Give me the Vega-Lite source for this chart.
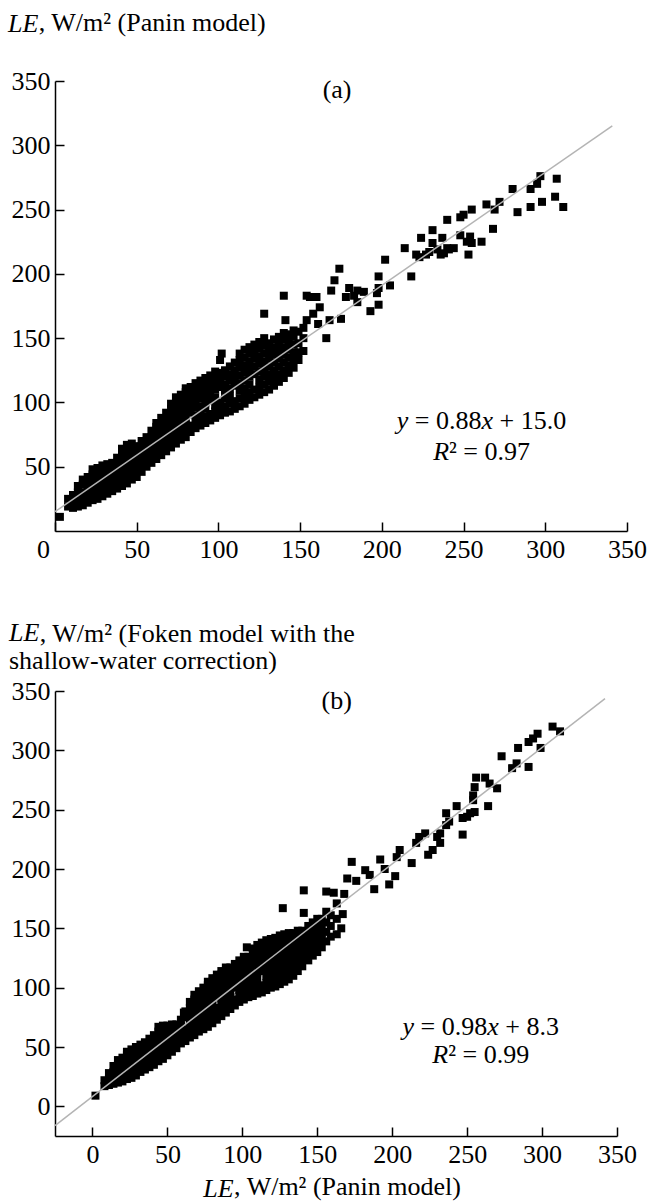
{
  "$schema": "https://vega.github.io/schema/vega-lite/v6.json",
  "padding": {"left": 8, "top": 9, "right": 0, "bottom": 0},
  "background": "white",
  "spacing": 56,
  "config": {
    "view": {"stroke": null},
    "font": "Liberation Serif",
    "axis": {"domainColor": "black", "domainWidth": 1.5, "tickColor": "black", "tickWidth": 1.5, "tickSize": -9, "labelFont": "Liberation Serif", "labelFontSize": 26, "labelColor": "black", "titleFont": "Liberation Serif", "titleFontSize": 26, "titleFontWeight": "normal", "titleColor": "black", "grid": false, "labelFlush": false, "labelOverlap": false},
    "title": {"font": "Liberation Serif", "fontSize": 26, "fontWeight": "normal", "color": "black", "subtitleFont": "Liberation Serif", "subtitleFontSize": 26, "subtitleColor": "black", "anchor": "start", "frame": "group", "offset": 0},
    "text": {"font": "Liberation Serif", "fontSize": 26, "color": "black", "align": "left", "baseline": "alphabetic"}
  },
  "title": {"text": "LE", "fontStyle": "italic", "orient": "bottom", "anchor": "start", "baseline": "alphabetic", "dx": 148.3, "dy": -6},
  "datasets": {
    "a": [
      {"x":3,"y":11},
      {"x":8,"y":19},{"x":8,"y":25},
      {"x":11,"y":18},{"x":11,"y":23},{"x":11,"y":28},
      {"x":14,"y":19},{"x":14,"y":24},{"x":14,"y":30},{"x":14,"y":35},
      {"x":17,"y":20},{"x":17,"y":25},{"x":17,"y":30},{"x":17,"y":36},{"x":17,"y":40},
      {"x":20,"y":22},{"x":20,"y":27},{"x":20,"y":32},{"x":20,"y":37},{"x":20,"y":42},
      {"x":23,"y":24},{"x":23,"y":29},{"x":23,"y":34},{"x":23,"y":39},{"x":23,"y":44},{"x":23,"y":48},
      {"x":26,"y":25},{"x":26,"y":30},{"x":26,"y":35},{"x":26,"y":40},{"x":26,"y":45},{"x":26,"y":49},
      {"x":29,"y":27},{"x":29,"y":32},{"x":29,"y":37},{"x":29,"y":42},{"x":29,"y":47},{"x":29,"y":51},
      {"x":32,"y":29},{"x":32,"y":34},{"x":32,"y":39},{"x":32,"y":44},{"x":32,"y":49},{"x":32,"y":52},
      {"x":35,"y":31},{"x":35,"y":36},{"x":35,"y":41},{"x":35,"y":46},{"x":35,"y":50},{"x":35,"y":53},
      {"x":38,"y":33},{"x":38,"y":38},{"x":38,"y":43},{"x":38,"y":48},{"x":38,"y":53},{"x":38,"y":57},
      {"x":41,"y":35},{"x":41,"y":40},{"x":41,"y":45},{"x":41,"y":50},{"x":41,"y":55},{"x":41,"y":60},{"x":41,"y":64},
      {"x":44,"y":37},{"x":44,"y":42},{"x":44,"y":47},{"x":44,"y":52},{"x":44,"y":57},{"x":44,"y":62},{"x":44,"y":67},
      {"x":47,"y":40},{"x":47,"y":45},{"x":47,"y":50},{"x":47,"y":55},{"x":47,"y":60},{"x":47,"y":65},{"x":47,"y":68},
      {"x":50,"y":42},{"x":50,"y":47},{"x":50,"y":52},{"x":50,"y":57},{"x":50,"y":62},{"x":50,"y":66},
      {"x":53,"y":46},{"x":53,"y":51},{"x":53,"y":56},{"x":53,"y":61},{"x":53,"y":66},{"x":53,"y":70},
      {"x":56,"y":50},{"x":56,"y":55},{"x":56,"y":60},{"x":56,"y":65},{"x":56,"y":70},{"x":56,"y":73},
      {"x":59,"y":53},{"x":59,"y":58},{"x":59,"y":63},{"x":59,"y":68},{"x":59,"y":73},{"x":59,"y":78},
      {"x":62,"y":56},{"x":62,"y":61},{"x":62,"y":66},{"x":62,"y":71},{"x":62,"y":76},{"x":62,"y":81},{"x":62,"y":84},
      {"x":65,"y":59},{"x":65,"y":64},{"x":65,"y":69},{"x":65,"y":74},{"x":65,"y":79},{"x":65,"y":84},{"x":65,"y":88},
      {"x":68,"y":62},{"x":68,"y":67},{"x":68,"y":72},{"x":68,"y":77},{"x":68,"y":82},{"x":68,"y":87},{"x":68,"y":92},
      {"x":71,"y":65},{"x":71,"y":70},{"x":71,"y":75},{"x":71,"y":80},{"x":71,"y":85},{"x":71,"y":90},{"x":71,"y":95},{"x":71,"y":99},
      {"x":74,"y":68},{"x":74,"y":73},{"x":74,"y":78},{"x":74,"y":83},{"x":74,"y":88},{"x":74,"y":93},{"x":74,"y":98},{"x":74,"y":104},
      {"x":77,"y":71},{"x":77,"y":76},{"x":77,"y":81},{"x":77,"y":86},{"x":77,"y":91},{"x":77,"y":96},{"x":77,"y":101},{"x":77,"y":106},
      {"x":80,"y":73},{"x":80,"y":78},{"x":80,"y":83},{"x":80,"y":88},{"x":80,"y":93},{"x":80,"y":98},{"x":80,"y":103},{"x":80,"y":108},{"x":80,"y":111},
      {"x":83,"y":77},{"x":83,"y":82},{"x":83,"y":92},{"x":83,"y":97},{"x":83,"y":102},{"x":83,"y":107},{"x":83,"y":112},
      {"x":86,"y":80},{"x":86,"y":85},{"x":86,"y":90},{"x":86,"y":96},{"x":86,"y":101},{"x":86,"y":106},{"x":86,"y":111},{"x":86,"y":115},
      {"x":89,"y":82},{"x":89,"y":87},{"x":89,"y":92},{"x":89,"y":97},{"x":89,"y":103},{"x":89,"y":108},{"x":89,"y":113},{"x":89,"y":117},
      {"x":92,"y":84},{"x":92,"y":89},{"x":92,"y":95},{"x":92,"y":100},{"x":92,"y":105},{"x":92,"y":110},{"x":92,"y":115},{"x":92,"y":119},
      {"x":95,"y":86},{"x":95,"y":91},{"x":95,"y":102},{"x":95,"y":107},{"x":95,"y":112},{"x":95,"y":117},{"x":95,"y":121},
      {"x":98,"y":88},{"x":98,"y":93},{"x":98,"y":98},{"x":98,"y":104},{"x":98,"y":110},{"x":98,"y":115},{"x":98,"y":120},{"x":98,"y":124},
      {"x":101,"y":90},{"x":101,"y":95},{"x":101,"y":100},{"x":101,"y":112},{"x":101,"y":118},{"x":101,"y":123},{"x":101,"y":133},{"x":102,"y":138},
      {"x":104,"y":92},{"x":104,"y":97},{"x":104,"y":103},{"x":104,"y":109},{"x":104,"y":114},{"x":104,"y":120},{"x":104,"y":125},
      {"x":107,"y":93},{"x":107,"y":99},{"x":107,"y":105},{"x":107,"y":111},{"x":107,"y":117},{"x":107,"y":122},{"x":107,"y":128},
      {"x":110,"y":95},{"x":110,"y":101},{"x":110,"y":113},{"x":110,"y":119},{"x":110,"y":125},{"x":110,"y":131},
      {"x":113,"y":97},{"x":113,"y":103},{"x":113,"y":109},{"x":113,"y":115},{"x":113,"y":121},{"x":113,"y":127},{"x":113,"y":133},{"x":113,"y":138},
      {"x":116,"y":99},{"x":116,"y":105},{"x":116,"y":111},{"x":116,"y":117},{"x":116,"y":123},{"x":116,"y":129},{"x":116,"y":135},{"x":116,"y":141},
      {"x":119,"y":102},{"x":119,"y":108},{"x":119,"y":114},{"x":119,"y":120},{"x":119,"y":126},{"x":119,"y":132},{"x":119,"y":138},{"x":119,"y":143},
      {"x":122,"y":104},{"x":122,"y":110},{"x":122,"y":122},{"x":122,"y":128},{"x":122,"y":134},{"x":122,"y":140},{"x":122,"y":145},
      {"x":125,"y":106},{"x":125,"y":112},{"x":125,"y":118},{"x":125,"y":124},{"x":125,"y":130},{"x":125,"y":136},{"x":125,"y":142},{"x":125,"y":147},
      {"x":128,"y":108},{"x":128,"y":114},{"x":128,"y":120},{"x":128,"y":126},{"x":128,"y":132},{"x":128,"y":138},{"x":128,"y":144},{"x":128,"y":150},{"x":128,"y":169},
      {"x":131,"y":110},{"x":131,"y":116},{"x":131,"y":122},{"x":131,"y":128},{"x":131,"y":134},{"x":131,"y":140},{"x":131,"y":146},
      {"x":134,"y":113},{"x":134,"y":119},{"x":134,"y":125},{"x":134,"y":131},{"x":134,"y":137},{"x":134,"y":143},{"x":134,"y":149},
      {"x":137,"y":116},{"x":137,"y":122},{"x":137,"y":128},{"x":137,"y":134},{"x":137,"y":140},{"x":137,"y":146},{"x":137,"y":151},
      {"x":140,"y":119},{"x":140,"y":125},{"x":140,"y":131},{"x":140,"y":137},{"x":140,"y":143},{"x":140,"y":149},{"x":140,"y":154},{"x":141,"y":164},{"x":140,"y":183},
      {"x":143,"y":123},{"x":143,"y":129},{"x":143,"y":135},{"x":143,"y":141},{"x":143,"y":147},{"x":143,"y":153},
      {"x":146,"y":127},{"x":146,"y":133},{"x":146,"y":139},{"x":146,"y":145},{"x":146,"y":151},{"x":146,"y":156},
      {"x":149,"y":133},{"x":149,"y":139},{"x":149,"y":146},{"x":149,"y":155},
      {"x":152,"y":140},{"x":152,"y":150},{"x":152,"y":158},
      {"x":154,"y":164},{"x":154,"y":183},
      {"x":156,"y":182},{"x":160,"y":182},{"x":161,"y":161},{"x":162,"y":174},{"x":158,"y":169},{"x":166,"y":150},{"x":168,"y":164},{"x":169,"y":187},{"x":171,"y":195},{"x":174,"y":204},{"x":175,"y":165},{"x":178,"y":182},{"x":180,"y":189},{"x":183,"y":183},{"x":185,"y":187},{"x":185,"y":178},{"x":189,"y":186},{"x":193,"y":171},{"x":197,"y":185},{"x":198,"y":198},{"x":198,"y":176},{"x":198,"y":189},{"x":202,"y":211},{"x":205,"y":191},{"x":214,"y":220},{"x":218,"y":198},{"x":221,"y":215},{"x":223,"y":213},{"x":224,"y":228},{"x":227,"y":215},{"x":229,"y":217},{"x":231,"y":234},{"x":231,"y":224},{"x":234,"y":219},{"x":236,"y":215},{"x":237,"y":228},{"x":238,"y":216},{"x":240,"y":242},{"x":240,"y":220},{"x":241,"y":219},{"x":244,"y":220},{"x":248,"y":244},{"x":248,"y":230},{"x":250,"y":246},{"x":252,"y":225},{"x":253,"y":215},{"x":254,"y":229},{"x":255,"y":250},{"x":255,"y":224},{"x":261,"y":225},{"x":264,"y":254},{"x":268,"y":235},{"x":269,"y":250},{"x":272,"y":256},{"x":280,"y":266},{"x":283,"y":248},{"x":291,"y":266},{"x":291,"y":252},{"x":295,"y":270},{"x":297,"y":276},{"x":298,"y":256},{"x":306,"y":260},{"x":307,"y":274},{"x":311,"y":252}
    ],
    "b": [
      {"x":2,"y":9},
      {"x":8,"y":17},{"x":8,"y":22},
      {"x":11,"y":18},{"x":11,"y":23},{"x":11,"y":28},
      {"x":14,"y":19},{"x":14,"y":24},{"x":14,"y":29},{"x":14,"y":34},
      {"x":17,"y":20},{"x":17,"y":25},{"x":17,"y":30},{"x":17,"y":35},{"x":17,"y":39},
      {"x":20,"y":21},{"x":20,"y":26},{"x":20,"y":31},{"x":20,"y":36},{"x":20,"y":41},
      {"x":23,"y":23},{"x":23,"y":28},{"x":23,"y":33},{"x":23,"y":38},{"x":23,"y":43},{"x":23,"y":46},
      {"x":26,"y":24},{"x":26,"y":29},{"x":26,"y":34},{"x":26,"y":39},{"x":26,"y":44},{"x":26,"y":48},
      {"x":29,"y":26},{"x":29,"y":31},{"x":29,"y":36},{"x":29,"y":41},{"x":29,"y":46},{"x":29,"y":50},
      {"x":32,"y":29},{"x":32,"y":34},{"x":32,"y":39},{"x":32,"y":44},{"x":32,"y":49},{"x":32,"y":52},
      {"x":35,"y":31},{"x":35,"y":36},{"x":35,"y":41},{"x":35,"y":46},{"x":35,"y":51},{"x":35,"y":54},
      {"x":38,"y":33},{"x":38,"y":38},{"x":38,"y":43},{"x":38,"y":48},{"x":38,"y":53},{"x":38,"y":57},
      {"x":41,"y":35},{"x":41,"y":40},{"x":41,"y":45},{"x":41,"y":50},{"x":41,"y":55},{"x":41,"y":60},
      {"x":44,"y":38},{"x":44,"y":43},{"x":44,"y":48},{"x":44,"y":53},{"x":44,"y":58},{"x":44,"y":63},{"x":44,"y":67},
      {"x":47,"y":40},{"x":47,"y":45},{"x":47,"y":50},{"x":47,"y":55},{"x":47,"y":60},{"x":47,"y":65},{"x":47,"y":68},
      {"x":50,"y":43},{"x":50,"y":48},{"x":50,"y":53},{"x":50,"y":58},{"x":50,"y":63},{"x":50,"y":68},
      {"x":53,"y":46},{"x":53,"y":51},{"x":53,"y":56},{"x":53,"y":61},{"x":53,"y":66},{"x":53,"y":69},
      {"x":56,"y":49},{"x":56,"y":54},{"x":56,"y":59},{"x":56,"y":64},{"x":56,"y":69},
      {"x":59,"y":53},{"x":59,"y":58},{"x":59,"y":63},{"x":59,"y":68},{"x":59,"y":73},{"x":61,"y":79},
      {"x":62,"y":55},{"x":62,"y":60},{"x":62,"y":65},{"x":62,"y":75},{"x":62,"y":80},
      {"x":65,"y":58},{"x":65,"y":63},{"x":65,"y":68},{"x":65,"y":73},{"x":65,"y":78},{"x":65,"y":83},{"x":65,"y":88},
      {"x":68,"y":60},{"x":68,"y":65},{"x":68,"y":70},{"x":68,"y":75},{"x":68,"y":80},{"x":68,"y":85},{"x":68,"y":90},{"x":68,"y":94},
      {"x":71,"y":63},{"x":71,"y":68},{"x":71,"y":73},{"x":71,"y":78},{"x":71,"y":83},{"x":71,"y":88},{"x":71,"y":93},{"x":71,"y":97},
      {"x":74,"y":65},{"x":74,"y":70},{"x":74,"y":75},{"x":74,"y":80},{"x":74,"y":85},{"x":74,"y":90},{"x":74,"y":95},{"x":74,"y":100},
      {"x":77,"y":67},{"x":77,"y":72},{"x":77,"y":77},{"x":77,"y":82},{"x":77,"y":87},{"x":77,"y":92},{"x":77,"y":97},{"x":77,"y":102},{"x":77,"y":105},
      {"x":80,"y":70},{"x":80,"y":75},{"x":80,"y":80},{"x":80,"y":85},{"x":80,"y":90},{"x":80,"y":95},{"x":80,"y":100},{"x":80,"y":105},{"x":80,"y":108},
      {"x":83,"y":73},{"x":83,"y":78},{"x":83,"y":83},{"x":83,"y":93},{"x":83,"y":98},{"x":83,"y":103},{"x":83,"y":108},{"x":83,"y":111},
      {"x":86,"y":76},{"x":86,"y":81},{"x":86,"y":86},{"x":86,"y":91},{"x":86,"y":96},{"x":86,"y":101},{"x":86,"y":106},{"x":86,"y":111},{"x":86,"y":114},
      {"x":89,"y":79},{"x":89,"y":84},{"x":89,"y":89},{"x":89,"y":94},{"x":89,"y":99},{"x":89,"y":104},{"x":89,"y":109},{"x":89,"y":114},{"x":89,"y":117},
      {"x":92,"y":82},{"x":92,"y":87},{"x":92,"y":92},{"x":92,"y":97},{"x":92,"y":102},{"x":92,"y":107},{"x":92,"y":112},{"x":92,"y":117},
      {"x":95,"y":85},{"x":95,"y":90},{"x":95,"y":100},{"x":95,"y":105},{"x":95,"y":110},{"x":95,"y":115},{"x":95,"y":120},
      {"x":98,"y":88},{"x":98,"y":93},{"x":98,"y":98},{"x":98,"y":103},{"x":98,"y":108},{"x":98,"y":113},{"x":98,"y":118},{"x":98,"y":123},
      {"x":101,"y":90},{"x":101,"y":95},{"x":101,"y":100},{"x":101,"y":105},{"x":101,"y":111},{"x":101,"y":117},{"x":101,"y":122},{"x":101,"y":126},{"x":103,"y":134},
      {"x":104,"y":92},{"x":104,"y":97},{"x":104,"y":102},{"x":104,"y":108},{"x":104,"y":114},{"x":104,"y":120},{"x":104,"y":126},
      {"x":107,"y":93},{"x":107,"y":99},{"x":107,"y":105},{"x":107,"y":111},{"x":107,"y":117},{"x":107,"y":123},{"x":107,"y":129},{"x":107,"y":133},
      {"x":110,"y":95},{"x":110,"y":101},{"x":110,"y":107},{"x":110,"y":113},{"x":110,"y":119},{"x":110,"y":125},{"x":110,"y":131},{"x":110,"y":136},
      {"x":113,"y":96},{"x":113,"y":102},{"x":113,"y":114},{"x":113,"y":120},{"x":113,"y":126},{"x":113,"y":132},{"x":113,"y":138},
      {"x":116,"y":98},{"x":116,"y":104},{"x":116,"y":110},{"x":116,"y":116},{"x":116,"y":122},{"x":116,"y":128},{"x":116,"y":134},{"x":116,"y":140},
      {"x":119,"y":100},{"x":119,"y":106},{"x":119,"y":112},{"x":119,"y":118},{"x":119,"y":124},{"x":119,"y":130},{"x":119,"y":136},{"x":119,"y":141},
      {"x":122,"y":101},{"x":122,"y":107},{"x":122,"y":113},{"x":122,"y":119},{"x":122,"y":125},{"x":122,"y":131},{"x":122,"y":137},{"x":122,"y":142},
      {"x":125,"y":103},{"x":125,"y":109},{"x":125,"y":115},{"x":125,"y":121},{"x":125,"y":127},{"x":125,"y":133},{"x":125,"y":139},{"x":125,"y":144},{"x":127,"y":167},
      {"x":128,"y":105},{"x":128,"y":111},{"x":128,"y":117},{"x":128,"y":123},{"x":128,"y":129},{"x":128,"y":135},{"x":128,"y":141},{"x":128,"y":145},
      {"x":131,"y":107},{"x":131,"y":113},{"x":131,"y":119},{"x":131,"y":125},{"x":131,"y":131},{"x":131,"y":137},{"x":131,"y":143},{"x":131,"y":146},
      {"x":134,"y":110},{"x":134,"y":116},{"x":134,"y":122},{"x":134,"y":128},{"x":134,"y":134},{"x":134,"y":140},{"x":134,"y":146},
      {"x":137,"y":114},{"x":137,"y":120},{"x":137,"y":126},{"x":137,"y":132},{"x":137,"y":138},{"x":137,"y":144},{"x":137,"y":148},
      {"x":140,"y":118},{"x":140,"y":124},{"x":140,"y":130},{"x":140,"y":136},{"x":140,"y":142},{"x":140,"y":148},{"x":141,"y":163},{"x":141,"y":182},
      {"x":144,"y":123},{"x":144,"y":129},{"x":144,"y":135},{"x":144,"y":141},{"x":144,"y":147},{"x":144,"y":152},
      {"x":147,"y":127},{"x":147,"y":133},{"x":147,"y":139},{"x":147,"y":145},{"x":147,"y":151},{"x":147,"y":155},
      {"x":150,"y":130},{"x":150,"y":136},{"x":150,"y":142},{"x":150,"y":148},{"x":150,"y":154},{"x":150,"y":158},
      {"x":153,"y":134},{"x":153,"y":140},{"x":153,"y":146},{"x":153,"y":152},{"x":153,"y":158},
      {"x":156,"y":139},{"x":156,"y":147},{"x":156,"y":155},{"x":156,"y":164},{"x":156,"y":181},
      {"x":159,"y":143},{"x":159,"y":152},{"x":159,"y":161},{"x":161,"y":180},
      {"x":163,"y":145},{"x":163,"y":158},{"x":163,"y":171},{"x":166,"y":150},{"x":167,"y":162},
      {"x":168,"y":179},{"x":170,"y":192},{"x":173,"y":206},{"x":176,"y":190},{"x":182,"y":199},{"x":185,"y":195},{"x":188,"y":183},{"x":192,"y":208},{"x":195,"y":200},{"x":198,"y":187},{"x":202,"y":194},{"x":203,"y":210},{"x":205,"y":216},{"x":213,"y":205},{"x":216,"y":222},{"x":218,"y":227},{"x":222,"y":230},{"x":224,"y":212},{"x":227,"y":216},{"x":230,"y":227},{"x":232,"y":222},{"x":232,"y":230},{"x":236,"y":247},{"x":236,"y":237},{"x":238,"y":240},{"x":243,"y":253},{"x":247,"y":243},{"x":247,"y":229},{"x":250,"y":244},{"x":252,"y":247},{"x":254,"y":258},{"x":254,"y":262},{"x":255,"y":248},{"x":255,"y":269},{"x":256,"y":277},{"x":262,"y":277},{"x":264,"y":253},{"x":265,"y":272},{"x":270,"y":268},{"x":273,"y":295},{"x":280,"y":285},{"x":283,"y":289},{"x":284,"y":302},{"x":291,"y":286},{"x":291,"y":307},{"x":294,"y":310},{"x":297,"y":314},{"x":299,"y":302},{"x":307,"y":320},{"x":312,"y":316}
    ]
  },
  "vconcat": [
    {
      "width": 572,
      "height": 450,
      "title": {"text": "LE", "fontStyle": "italic", "baseline": "alphabetic", "dx": -47, "dy": 53},
      "encoding": {
        "x": {"field": "x", "type": "quantitative", "scale": {"domain": [0, 350], "nice": false, "zero": false},
              "axis": {"values": [0, 50, 100, 150, 200, 250, 300, 350], "title": null, "labelPadding": 14.5,
                       "labelOffset": {"condition": {"test": "datum.value === 0", "value": -12}, "value": 0}}},
        "y": {"field": "y", "type": "quantitative", "scale": {"domain": [0, 350], "nice": false, "zero": false},
              "axis": {"values": [50, 100, 150, 200, 250, 300, 350], "title": ", W/m² (Panin model)", "titleAngle": 0, "titleAlign": "left", "titleBaseline": "alphabetic", "titleX": -16.7, "titleY": -51, "labelPadding": 14}}
      },
      "layer": [
        {"data": {"name": "a"}, "mark": {"type": "square", "size": 64, "color": "black", "opacity": 1}},
        {"data": {"values": [{"x": 0, "y": 15}, {"x": 341, "y": 315.1}]}, "mark": {"type": "line", "color": "#b4b4b4", "strokeWidth": 1.5}},
        {"data": {"values": [{"x": 172.6, "y": 343, "t": "(a)"}]}, "mark": {"type": "text", "align": "center", "baseline": "middle"}, "encoding": {"text": {"field": "t"}}},
        {"data": {"values": [{"x": 261, "y": 79.3, "t": "y"}]}, "mark": {"type": "text", "fontStyle": "italic", "dx": -84.7}, "encoding": {"text": {"field": "t"}}},
        {"data": {"values": [{"x": 261, "y": 79.3, "t": "= 0.88"}]}, "mark": {"type": "text", "dx": -66.7}, "encoding": {"text": {"field": "t"}}},
        {"data": {"values": [{"x": 261, "y": 79.3, "t": "x"}]}, "mark": {"type": "text", "fontStyle": "italic", "dx": 0}, "encoding": {"text": {"field": "t"}}},
        {"data": {"values": [{"x": 261, "y": 79.3, "t": "+ 15.0"}]}, "mark": {"type": "text", "dx": 18}, "encoding": {"text": {"field": "t"}}},
        {"data": {"values": [{"x": 261, "y": 55.2, "t": "R"}]}, "mark": {"type": "text", "fontStyle": "italic", "dx": -48.4}, "encoding": {"text": {"field": "t"}}},
        {"data": {"values": [{"x": 261, "y": 55.2, "t": "² = 0.97"}]}, "mark": {"type": "text", "dx": -32.5}, "encoding": {"text": {"field": "t"}}}
      ]
    },
    {
      "width": 562,
      "height": 445,
      "title": {"text": "LE", "subtitle": "shallow-water correction)", "fontStyle": "italic", "subtitleFontStyle": "normal", "baseline": "alphabetic", "subtitlePadding": 2, "dx": -46, "dy": 78},
      "encoding": {
        "x": {"field": "x", "type": "quantitative", "scale": {"domain": [-25, 350], "nice": false, "zero": false},
              "axis": {"values": [0, 50, 100, 150, 200, 250, 300, 350], "title": ", W/m² (Panin model)", "titleAlign": "left", "titleBaseline": "alphabetic", "titleAnchor": "start", "titleX": 178.6, "titleY": 58, "labelPadding": 14.5}},
        "y": {"field": "y", "type": "quantitative", "scale": {"domain": [-25, 350], "nice": false, "zero": false},
              "axis": {"values": [0, 50, 100, 150, 200, 250, 300, 350], "title": ", W/m² (Foken model with the", "titleAngle": 0, "titleAlign": "left", "titleBaseline": "alphabetic", "titleX": -15.7, "titleY": -49.3, "labelPadding": 14}}
      },
      "layer": [
        {"data": {"name": "b"}, "mark": {"type": "square", "size": 64, "color": "black", "opacity": 1}},
        {"data": {"values": [{"x": -25, "y": -16.2}, {"x": 342, "y": 343.5}]}, "mark": {"type": "line", "color": "#b4b4b4", "strokeWidth": 1.5}},
        {"data": {"values": [{"x": 163, "y": 341.6, "t": "(b)"}]}, "mark": {"type": "text", "align": "center", "baseline": "middle"}, "encoding": {"text": {"field": "t"}}},
        {"data": {"values": [{"x": 259.1, "y": 60.4, "t": "y"}]}, "mark": {"type": "text", "fontStyle": "italic", "dx": -78.2}, "encoding": {"text": {"field": "t"}}},
        {"data": {"values": [{"x": 259.1, "y": 60.4, "t": "= 0.98"}]}, "mark": {"type": "text", "dx": -60.2}, "encoding": {"text": {"field": "t"}}},
        {"data": {"values": [{"x": 259.1, "y": 60.4, "t": "x"}]}, "mark": {"type": "text", "fontStyle": "italic", "dx": 6.5}, "encoding": {"text": {"field": "t"}}},
        {"data": {"values": [{"x": 259.1, "y": 60.4, "t": "+ 8.3"}]}, "mark": {"type": "text", "dx": 24.5}, "encoding": {"text": {"field": "t"}}},
        {"data": {"values": [{"x": 259.1, "y": 36.8, "t": "R"}]}, "mark": {"type": "text", "fontStyle": "italic", "dx": -48.4}, "encoding": {"text": {"field": "t"}}},
        {"data": {"values": [{"x": 259.1, "y": 36.8, "t": "² = 0.99"}]}, "mark": {"type": "text", "dx": -32.5}, "encoding": {"text": {"field": "t"}}}
      ]
    }
  ]
}
